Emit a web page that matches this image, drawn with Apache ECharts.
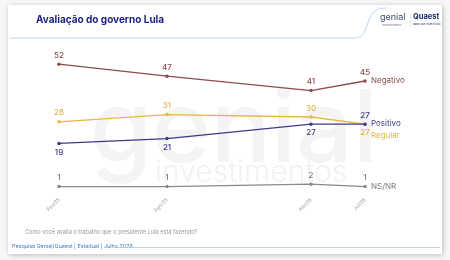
<!DOCTYPE html>
<html>
<head>
<meta charset="utf-8">
<script src="https://cdn.jsdelivr.net/npm/echarts@6/dist/echarts.min.js"></script>
<style>
  html, body { margin: 0; padding: 0; background: #f7f7f7; }
  #chart { width: 450px; height: 260px; }
</style>
</head>
<body>
<div id="chart"></div>
<script>
// rodadas da pesquisa (meses desde fev/25)
var waves = ['Fev/25', 'Ago/25', 'Abr/26', 'Jul/26'];
var waveMonth = [0, 6, 14, 17];

var negativo = [52, 47, 41, 45];
var regular = [28, 31, 30, 27];
var positivo = [19, 21, 27, 27];
var nsnr = [1, 1, 2, 1];

// posição dos rótulos de valor
var posNegativo = ['top', 'top', 'top', 'top'];
var posRegular = ['top', 'top', 'top', 'bottom'];
var posPositivo = ['bottom', 'bottom', 'bottom', 'top'];
var posNsnr = ['top', 'top', 'top', 'top'];

var font = 'Inter, "Noto Sans", sans-serif';

function points(vals, pos) {
    return vals.map(function (v, i) {
        return { value: [waveMonth[i], v], label: { position: pos[i] } };
    });
}

function makeSeries(name, vals, pos, color, labelColor, endOffset) {
    return {
        name: name,
        type: 'line',
        data: points(vals, pos),
        symbol: 'circle',
        symbolSize: 3.5,
        lineStyle: { color: color, width: 1.3 },
        itemStyle: { color: color },
        label: {
            show: true,
            distance: 3,
            color: labelColor,
            fontSize: 8,
            fontWeight: 500,
            fontFamily: font,
            formatter: function (p) { return p.value[1]; }
        },
        endLabel: {
            show: true,
            formatter: name,
            color: labelColor,
            fontSize: 8,
            fontFamily: font,
            distance: 6,
            offset: endOffset
        },
        silent: true,
        animation: false
    };
}

var myChart = echarts.init(document.getElementById('chart'));

var option = {
    backgroundColor: '#f7f7f7',
    animation: false,
    graphic: [
        {
            type: 'rect', z: -10,
            shape: { x: 8, y: 5, width: 434, height: 249 },
            style: { fill: '#fff', shadowBlur: 5, shadowColor: 'rgba(0,0,0,0.25)', shadowOffsetX: 1, shadowOffsetY: 1 }
        },
        // marca d'água
        {
            type: 'text', z: -5, left: 90, top: 82,
            style: { text: 'genial', fontSize: 100, fontFamily: font, fontWeight: 500, fill: '#f4f4f4' }
        },
        {
            type: 'text', z: -5, left: 155, top: 158,
            style: { text: 'investimentos', fontSize: 30, fontFamily: font, fontWeight: 300, fill: '#f2f2f2' }
        },
        {
            type: 'polyline', z: -4,
            shape: { points: [[10, 38], [355, 38]] },
            style: { fill: null, stroke: '#a9cdec', lineWidth: 0.8 }
        },
        {
            type: 'bezierCurve', z: -4,
            shape: { x1: 355, y1: 38, cpx1: 372, cpy1: 38, cpx2: 362, cpy2: 8, x2: 386, y2: 8 },
            style: { fill: null, stroke: '#a9cdec', lineWidth: 0.8 }
        },
        {
            type: 'text', left: 36, top: 15,
            style: { text: 'Avaliação do governo Lula', fontSize: 10, fontWeight: 'bold', fontFamily: font, fill: '#1c2483' }
        },
        {
            type: 'text', left: 380, top: 13,
            style: { text: 'genial', fontSize: 9, fontFamily: font, fill: '#3c4a63' }
        },
        {
            type: 'text', left: 382, top: 24,
            style: { text: 'investimentos', fontSize: 3, fontFamily: font, fill: '#6a7588' }
        },
        {
            type: 'line',
            shape: { x1: 410.5, y1: 14, x2: 410.5, y2: 27 },
            style: { stroke: '#c6ccd6', lineWidth: 0.5 }
        },
        {
            type: 'text', left: 413, top: 13,
            style: { text: 'Quaest', fontSize: 7.5, fontWeight: 'bold', fontFamily: font, fill: '#1d2c6b' }
        },
        {
            type: 'text', left: 413, top: 23,
            style: { text: 'dados que criam futuro', fontSize: 2.5, fontFamily: font, fill: '#1d2c6b' }
        },
        {
            type: 'text', left: 25, top: 229,
            style: { text: 'Como você avalia o trabalho que o presidente Lula está fazendo?', fontSize: 5.6, fontFamily: font, fill: '#9a9a9a' }
        },
        {
            type: 'text', left: 12, top: 244,
            style: { text: 'Pesquisa Genial/Quaest | Estadual | Julho 2026', fontSize: 5.4, fontFamily: font, fill: '#3d7dc9' }
        },
        {
            type: 'line',
            shape: { x1: 117, y1: 247.5, x2: 440, y2: 247.5 },
            style: { stroke: '#a9cdec', lineWidth: 0.8 }
        }
    ],
    grid: { left: 59, right: 85, top: 45, bottom: 71 },
    xAxis: {
        type: 'value',
        min: 0,
        max: 17,
        axisLine: { show: false },
        axisTick: { show: false, customValues: waveMonth },
        splitLine: { show: false },
        axisLabel: {
            customValues: waveMonth,
            rotate: 45,
            margin: 10,
            fontSize: 5,
            color: '#9a9a9a',
            fontFamily: font,
            formatter: function (v) { return waves[waveMonth.indexOf(v)]; }
        }
    },
    yAxis: {
        type: 'value',
        min: 0,
        max: 60,
        show: false,
        splitLine: { show: false }
    },
    series: [
        makeSeries('Negativo', negativo, posNegativo, '#8e4a4c', '#8a4d4f', [0, 0]),
        makeSeries('Regular', regular, posRegular, '#e8b746', '#e2b24a', [0, 11]),
        makeSeries('Positivo', positivo, posPositivo, '#3b3b8a', '#3a3a86', [0, -1]),
        makeSeries('NS/NR', nsnr, posNsnr, '#8a8a8a', '#7a7a7a', [0, 0]),
        {
            // linhas verticais das rodadas
            type: 'line',
            data: [],
            silent: true,
            markLine: {
                symbol: 'none',
                silent: true,
                label: { show: false },
                lineStyle: { color: '#eeeeee', width: 0.6, type: 'solid' },
                data: waveMonth.map(function (m) { return [{ coord: [m, 60] }, { coord: [m, -5] }]; })
            }
        }
    ]
};

myChart.setOption(option);
</script>
</body>
</html>
